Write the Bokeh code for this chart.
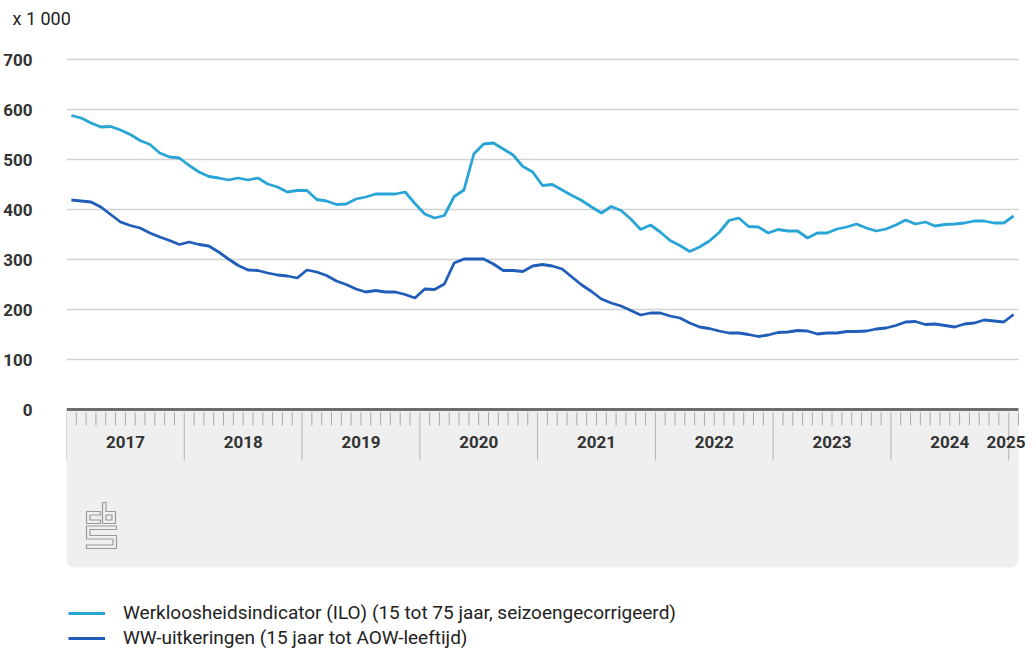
from bokeh.plotting import figure
from bokeh.models import Range1d, FixedTicker, Legend, LegendItem, ColumnDataSource, Label
from bokeh.embed import file_html
from bokeh.resources import INLINE

# ---- data: monthly, Jan 2017 .. Jan 2025 (x 1 000) ----
months = list(range(97))
ilo = [588, 583, 573, 565, 566, 559, 550, 538, 530, 513, 505, 503,
       488, 475, 466, 463, 459, 463, 459, 463, 451, 445, 435, 438,
       438, 420, 417, 410, 411, 421, 425, 431, 431, 431, 435, 412,
       391, 383, 388, 426, 439, 511, 531, 533, 521, 509, 486, 475,
       448, 450, 439, 428, 418, 405, 393, 406, 398, 381, 360, 369,
       355, 338, 328, 316, 325, 337, 354, 378, 383, 366, 365, 353,
       360, 357, 357, 343, 353, 353, 361, 365, 371, 363, 357, 361,
       369, 379, 371, 375, 367, 370, 371, 373, 377, 377, 373, 373,
       387]
ww = [419, 417, 415, 405, 390, 375, 368, 363, 353, 345, 338, 330,
      335, 330, 327, 315, 301, 288, 279, 278, 273, 269, 267, 263,
      279, 275, 268, 257, 250, 241, 235, 238, 235, 235, 230, 223,
      241, 240, 251, 293, 301, 301, 301, 291, 278, 278, 276, 287,
      290, 287, 281, 265, 249, 236, 221, 213, 207, 198, 189, 193,
      193, 187, 183, 173, 165, 162, 157, 153, 153, 150, 146, 149,
      154, 155, 158, 157, 151, 153, 153, 156, 156, 157, 161, 163,
      168, 175, 176, 170, 171, 168, 165, 171, 173, 179, 177, 175,
      190]
year_labels = ["2017", "2018", "2019", "2020", "2021", "2022", "2023", "2024", "2025"]
y_ticks = [0, 100, 200, 300, 400, 500, 600, 700]
series_names = ["Werkloosheidsindicator (ILO) (15 tot 75 jaar, seizoengecorrigeerd)",
                "WW-uitkeringen (15 jaar tot AOW-leeftijd)"]

LIGHT = "#28a5d6"
DARK = "#1f5db8"
FONT = "Roboto"

n = len(months)
PX_PER_MONTH = 952 / n
FRAME_W = 960
X_END = FRAME_W / PX_PER_MONTH
Y_MIN, Y_MAX = -480, 742
BAND = -316

p = figure(frame_width=FRAME_W, frame_height=611, output_backend="svg", toolbar_location=None,
           x_range=Range1d(0, X_END), y_range=Range1d(Y_MIN, Y_MAX),
           x_axis_location=None, y_axis_location="left",
           min_border_left=58, min_border_right=0, min_border_top=0, min_border_bottom=0)
p.outline_line_color = None
p.background_fill_color = "white"
p.border_fill_color = "white"

# unit label
p.title.text = "x 1 000"
p.title.align = "left"
p.title.vertical_align = "top"
p.title.offset = -54
p.title.standoff = 15
p.title.text_font = FONT
p.title.text_font_size = "18px"
p.title.text_font_style = "normal"
p.title.text_color = "#222222"

# y axis
p.yaxis.ticker = FixedTicker(ticks=y_ticks)
p.yaxis.axis_line_color = None
p.yaxis.major_tick_line_color = None
p.yaxis.minor_tick_line_color = None
p.yaxis.major_label_standoff = 28
p.yaxis.major_label_text_font = FONT
p.yaxis.major_label_text_font_size = "17px"
p.yaxis.major_label_text_font_style = "bold"
p.yaxis.major_label_text_color = "#333333"
p.ygrid.visible = False
p.xgrid.visible = False

# horizontal grid lines (only over the data span)
gl = y_ticks[1:]
p.segment(x0=[0] * len(gl), x1=[n] * len(gl), y0=gl, y1=gl, line_color="#d2d2d2", line_width=1.5)

# grey band below the x axis
p.quad(left=[0], right=[n], bottom=[BAND], top=[0], fill_color="#efefef",
       line_color=None, border_radius=(0, 0, 8, 8))

# month ticks and year separators
small = [k for k in range(1, n + 1) if k % 12 != 0]
big = [k for k in range(0, n + 1) if k % 12 == 0]
p.segment(x0=small, x1=small, y0=[-6] * len(small), y1=[-32] * len(small),
          line_color="#a8a8a8", line_width=1)
p.segment(x0=big, x1=big, y0=[-6] * len(big), y1=[-102] * len(big),
          line_color="#b4b4b4", line_width=1)
# axis line
p.segment(x0=[0], x1=[n], y0=[0], y1=[0], line_color="#6e6e6e", line_width=3)

# year labels (the last, partial year is right-aligned at the plot edge)
for j, t in enumerate(year_labels):
    start = 12 * j
    if start + 12 <= n:
        cx, align = start + 6, "center"
    else:
        cx, align = X_END - 0.1, "right"
    p.add_layout(Label(x=cx, y=-64, text=t, text_align=align, text_baseline="middle",
                       text_font=FONT, text_font_size="17px", text_font_style="bold",
                       text_color="#333333"))

# cbs logo (outline shapes, pixel offsets converted to data space)
def tx(px):
    return (px - 66) / PX_PER_MONTH
def ty(py):
    return (409 - py) * 2
logo = [
    [(86, 511), (100, 511), (100, 514.5), (89.5, 514.5), (89.5, 519.5), (100, 519.5), (100, 523), (86, 523)],
    [(102, 502), (105.5, 502), (105.5, 511), (115, 511), (115, 523), (102, 523)],
    [(105.5, 514.5), (111.5, 514.5), (111.5, 519.5), (105.5, 519.5)],
    [(86, 525.5), (116, 525.5), (116, 529), (89.5, 529), (89.5, 535), (116, 535), (116, 548),
     (86, 548), (86, 544.5), (112.5, 544.5), (112.5, 538.5), (86, 538.5)],
]
p.patches(xs=[[tx(a) for a, b in s] for s in logo], ys=[[ty(b) for a, b in s] for s in logo],
          fill_color=None, line_color="#9a9a9a", line_width=1.2)

# series
src = ColumnDataSource(dict(x=[m + 0.5 for m in months], ilo=ilo, ww=ww))
r1 = p.line("x", "ilo", source=src, line_color=LIGHT, line_width=2.8)
r2 = p.line("x", "ww", source=src, line_color=DARK, line_width=2.8)

legend = Legend(items=[LegendItem(label=series_names[0], renderers=[r1]),
                       LegendItem(label=series_names[1], renderers=[r2])],
                location=(2, 0), orientation="vertical")
legend.border_line_color = None
legend.background_fill_alpha = 0
legend.padding = 0
legend.margin = 0
legend.spacing = 2
legend.glyph_width = 37
legend.glyph_height = 20
legend.label_height = 20
legend.label_standoff = 18
legend.label_text_font = FONT
legend.label_text_font_size = "19px"
legend.label_text_color = "#222222"
p.add_layout(legend)

open("out.html", "w").write(file_html(p, INLINE))
